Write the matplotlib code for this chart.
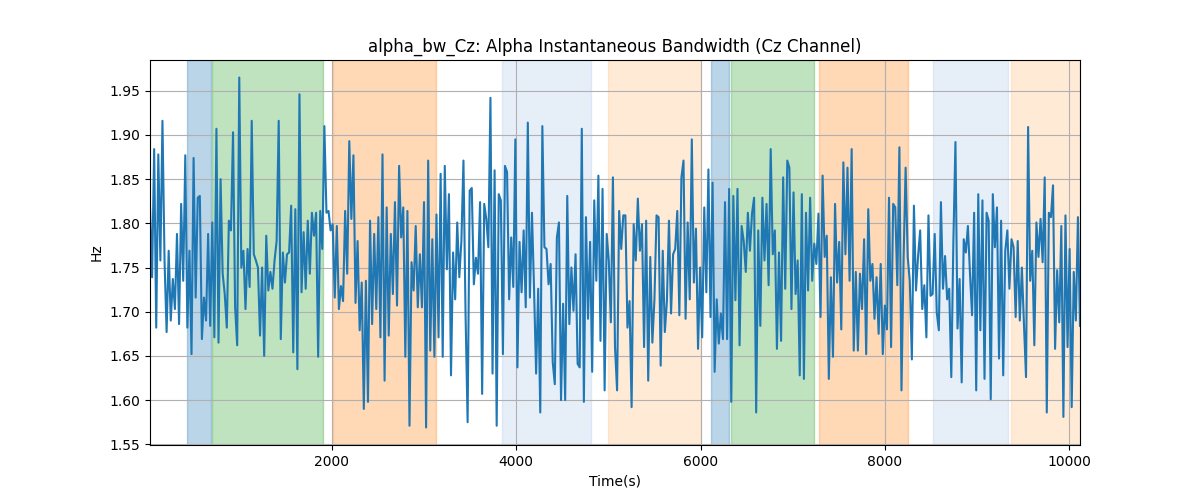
import numpy as np
import matplotlib
matplotlib.use("Agg")
import matplotlib.pyplot as plt

alpha_bw = [
    1.818, 1.739, 1.884, 1.682, 1.878, 1.758, 1.916, 1.758, 1.677, 1.769, 1.690, 1.737, 1.703,
    1.788, 1.686, 1.822, 1.735, 1.877, 1.682, 1.769, 1.652, 1.874, 1.716, 1.829, 1.831, 1.669,
    1.716, 1.690, 1.788, 1.684, 1.801, 1.671, 1.907, 1.665, 1.850, 1.743, 1.720, 1.682,
    1.803, 1.792, 1.903, 1.705, 1.662, 1.965, 1.750, 1.769, 1.703, 1.771, 1.728, 1.916, 1.765,
    1.758, 1.750, 1.673, 1.750, 1.650, 1.786, 1.724, 1.745, 1.726, 1.758, 1.780, 1.916, 1.669,
    1.767, 1.733, 1.765, 1.767, 1.820, 1.654, 1.816, 1.635, 1.946, 1.722, 1.790, 1.726, 1.803,
    1.743, 1.812,
    1.786, 1.812, 1.649, 1.814, 1.771, 1.910, 1.812, 1.814, 1.792, 1.799, 1.716, 1.797, 1.703,
    1.729, 1.712, 1.814, 1.743, 1.893, 1.805, 1.877, 1.710, 1.780, 1.679, 1.733, 1.590, 1.735,
    1.598, 1.803, 1.686, 1.788, 1.703, 1.807, 1.671, 1.878, 1.622, 1.818, 1.673, 1.788, 1.720,
    1.824, 1.707, 1.865,
    1.784, 1.818, 1.649, 1.814, 1.571, 1.756, 1.724, 1.797, 1.705, 1.765, 1.705, 1.824, 1.569,
    1.871, 1.656, 1.782, 1.649, 1.810, 1.671, 1.856, 1.649, 1.865, 1.748, 1.833, 1.628, 1.767,
    1.714, 1.801, 1.739, 1.780, 1.871, 1.698, 1.575, 1.837, 1.840, 1.731, 1.761, 1.743, 1.824,
    1.607,
    1.822, 1.805, 1.773, 1.942, 1.630, 1.860, 1.571, 1.833, 1.826, 1.652, 1.865, 1.858, 1.714,
    1.784, 1.728, 1.895, 1.637, 1.779, 1.722, 1.792, 1.705, 1.914, 1.716, 1.812, 1.726, 1.630,
    1.726, 1.586, 1.910, 1.773, 1.771, 1.731, 1.754, 1.643, 1.618, 1.784, 1.801, 1.600, 1.709,
    1.600, 1.831, 1.686, 1.750, 1.701, 1.765, 1.641, 1.637, 1.907, 1.598, 1.807, 1.692, 1.779,
    1.632, 1.826, 1.735, 1.854, 1.667, 1.839, 1.611, 1.788, 1.758, 1.688, 1.852, 1.660, 1.611,
    1.814, 1.771, 1.809, 1.809, 1.682, 1.712, 1.592, 1.799, 1.758, 1.828,
    1.769, 1.799, 1.660, 1.803, 1.622, 1.762, 1.665, 1.714, 1.809, 1.807, 1.639, 1.769, 1.677,
    1.712, 1.803, 1.698, 1.765, 1.771, 1.814, 1.696, 1.852, 1.871, 1.692, 1.801, 1.714, 1.895,
    1.733, 1.794, 1.658, 1.750, 1.671, 1.818, 1.722, 1.861, 1.694, 1.846,
    1.632, 1.714, 1.664, 1.698, 1.669, 1.824, 1.669, 1.839, 1.598, 1.831, 1.713, 1.839, 1.662,
    1.797, 1.780, 1.745, 1.812, 1.769, 1.811, 1.829, 1.586, 1.792, 1.684, 1.829, 1.758, 1.822,
    1.730, 1.884, 1.765, 1.792, 1.658, 1.767, 1.667, 1.852, 1.726, 1.871,
    1.863, 1.703, 1.835, 1.720, 1.758, 1.628, 1.833, 1.624, 1.812, 1.724, 1.829, 1.735, 1.777,
    1.754, 1.811, 1.694, 1.854, 1.762, 1.786, 1.624, 1.739, 1.649, 1.822, 1.733, 1.779, 1.680,
    1.869, 1.765, 1.863, 1.735, 1.884, 1.656, 1.745,
    1.656, 1.743, 1.703, 1.782, 1.652, 1.816, 1.735, 1.754, 1.692, 1.739, 1.675, 1.754, 1.652,
    1.707, 1.680, 1.829, 1.660, 1.822, 1.818, 1.730, 1.886, 1.611, 1.758, 1.863, 1.762, 1.735,
    1.646, 1.820, 1.724, 1.763, 1.792, 1.703, 1.730, 1.671, 1.809, 1.718, 1.720, 1.788, 1.699,
    1.679, 1.824, 1.726, 1.763, 1.714, 1.726, 1.626, 1.779, 1.892, 1.681, 1.737, 1.620, 1.782,
    1.767, 1.797, 1.743, 1.696, 1.812, 1.611, 1.833, 1.679, 1.826, 1.624, 1.812, 1.803, 1.601,
    1.833, 1.773, 1.818, 1.647, 1.803, 1.628, 1.769, 1.792, 1.726, 1.782, 1.773,
    1.694, 1.780, 1.690, 1.750, 1.686, 1.626, 1.909, 1.735, 1.769, 1.662, 1.801, 1.762, 1.805,
    1.756, 1.852, 1.586, 1.812, 1.807, 1.843, 1.658, 1.747, 1.688, 1.797, 1.581, 1.809, 1.660,
    1.771, 1.592, 1.745, 1.690, 1.807, 1.684,
]
t_first, t_last = 30, 10115

# labelled segments: (start, end, colour, alpha)
seg_start = [426, 697, 2011, 3844, 4995, 6114, 6331, 7286, 8524, 9370]
seg_end = [687, 1902, 3129, 4811, 6005, 6309, 7232, 8252, 9338, 10119]
seg_color = ["tab:blue", "tab:green", "tab:orange", "#aec7e8", "#ffbb78",
             "tab:blue", "tab:green", "tab:orange", "#aec7e8", "#ffbb78"]
seg_alpha = [0.3, 0.3, 0.3, 0.3, 0.3, 0.3, 0.3, 0.3, 0.3, 0.3]

t = np.linspace(t_first, t_last, len(alpha_bw))

fig, ax = plt.subplots(figsize=(12, 5), dpi=100)
for s, e, c, a in zip(seg_start, seg_end, seg_color, seg_alpha):
    ax.axvspan(s, e, color=c, alpha=a)
ax.plot(t, alpha_bw, color="tab:blue")
ax.set_xlim(t[0], t[-1])
ax.set_title("alpha_bw_Cz: Alpha Instantaneous Bandwidth (Cz Channel)")
ax.set_xlabel("Time(s)")
ax.set_ylabel("Hz")
ax.grid(True)

fig.savefig("out.png")
